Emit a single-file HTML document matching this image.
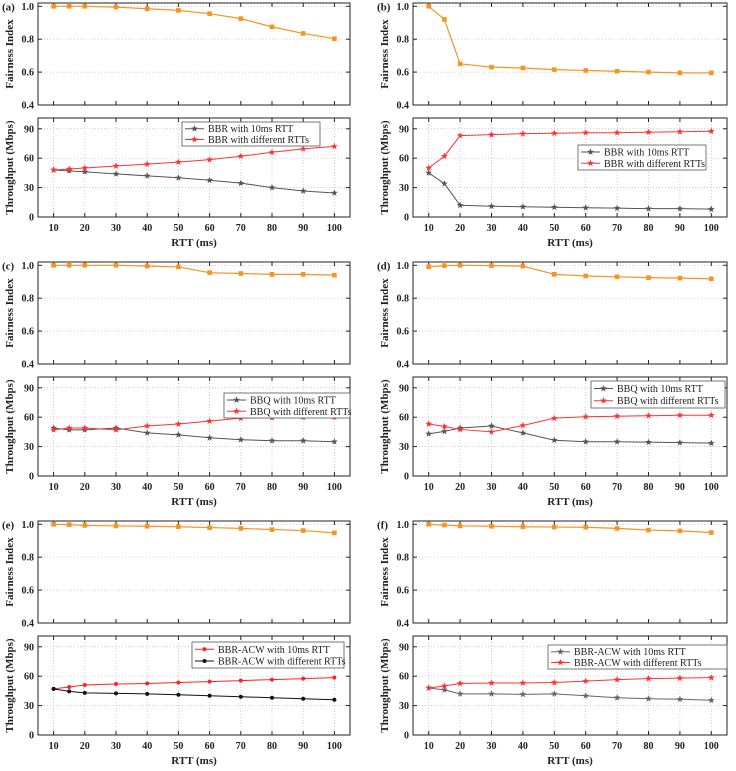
<!DOCTYPE html>
<html><head><meta charset="utf-8"><style>
html,body{margin:0;padding:0;background:#fff;}
svg{display:block;font-family:"Liberation Serif",serif;}
</style></head><body>
<svg id="c" width="736" height="771" xmlns="http://www.w3.org/2000/svg"></svg>
<script>
const rtts=[10,15,20,30,40,50,60,70,80,90,100];
const fairA=[1.0,1.0,1.0,0.995,0.985,0.975,0.955,0.925,0.875,0.835,0.803];
const tA1=[48,47,46,44,42,40,37.5,34.5,30,26.5,24.5];
const tA2=[48,49,50,52,54,56,58.5,62,66,69.5,72];
const fairB=[1.0,0.92,0.65,0.63,0.625,0.615,0.61,0.605,0.6,0.595,0.595];
const tB1=[45,34,12,11,10.5,10,9.5,9,8.5,8.5,8];
const tB2=[50,62,83,84,85,85.5,86,86,86.5,87,87.5];
const fairC=[1.0,1.0,1.0,1.0,0.995,0.99,0.955,0.95,0.945,0.945,0.94];
const tC1=[49,47,47,49,44,42,39,37,36,36,35];
const tC2=[47,49,49,47,51,53,56,59,59.5,60,60];
const fairD=[0.99,0.998,1.0,0.998,0.995,0.945,0.935,0.93,0.925,0.922,0.918];
const tD1=[43,45.5,49,51,44,36.5,35,35,34.5,34,33.5];
const tD2=[53,50.5,47.5,45,51.5,59,60.5,61,61.5,62,62];
const fairE=[1.0,0.998,0.993,0.99,0.988,0.985,0.98,0.975,0.968,0.962,0.948];
const tE1=[47,49,51,52,52.5,53.5,54.5,55.5,56.5,57.5,58.5];
const tE2=[47,44.5,43,42.5,42,41,40,39,38,37,36];
const fairF=[1.0,0.995,0.99,0.988,0.985,0.983,0.982,0.975,0.965,0.96,0.95];
const tF1=[48,46,42,42,41.5,42,40,38,37,36.5,35.5];
const tF2=[48,50,52.5,53,53,53.5,55,56.5,57.5,58,58.5];
const xTicks=[10,20,30,40,50,60,70,80,90,100];
const fTicks=[0.4,0.6,0.8,1.0];
const thTicks=[0,30,60,90];

const NS="http://www.w3.org/2000/svg";
const svg=document.getElementById('c');
function el(t,a,p){const e=document.createElementNS(NS,t);for(const k in a)e.setAttribute(k,a[k]);(p||svg).appendChild(e);return e;}
function txt(s,a,p){const e=el('text',a,p);e.textContent=s;return e;}

const panels=[
 {lab:'(a)',c:0,r:0,f:fairA,s1:tA1,s2:tA2,n1:'BBR with 10ms RTT',n2:'BBR with different RTTs',c1:'#555',c2:'#f33',m:'star',lg:[182,122,138,24]},
 {lab:'(b)',c:1,r:0,f:fairB,s1:tB1,s2:tB2,n1:'BBR with 10ms RTT',n2:'BBR with different RTTs',c1:'#555',c2:'#f33',m:'star',lg:[578,145,128,25]},
 {lab:'(c)',c:0,r:1,f:fairC,s1:tC1,s2:tC2,n1:'BBQ with 10ms RTT',n2:'BBQ with different RTTs',c1:'#555',c2:'#f33',m:'star',lg:[224,134,126,25]},
 {lab:'(d)',c:1,r:1,f:fairD,s1:tD1,s2:tD2,n1:'BBQ with 10ms RTT',n2:'BBQ with different RTTs',c1:'#555',c2:'#f33',m:'star',lg:[591,122,134,27]},
 {lab:'(e)',c:0,r:2,f:fairE,s1:tE1,s2:tE2,n1:'BBR-ACW with 10ms RTT',n2:'BBR-ACW with different RTTs',c1:'#f22',c2:'#111',m:'dot',lg:[192,124,152,26]},
 {lab:'(f)',c:1,r:2,f:fairF,s1:tF1,s2:tF2,n1:'BBR-ACW with 10ms RTT',n2:'BBR-ACW with different RTTs',c1:'#666',c2:'#f33',m:'star',lg:[548,127,179,24]}
];

function star(g,x,y,col){
  let pts=[];for(let i=0;i<10;i++){const a=-Math.PI/2+i*Math.PI/5,r=i%2?1.5:3.6;pts.push((x+r*Math.cos(a)).toFixed(1)+','+(y+r*Math.sin(a)).toFixed(1));}
  const p=el('polygon',{points:pts.join(' '),fill:col},g);
  
  
}
function dot(g,x,y,col){
  const c=el('circle',{cx:x,cy:y,r:2,fill:col},g);
  
  
}

panels.forEach(P=>{
  const L=P.c?413:38, R=P.c?727:350, off=P.r*259;
  const g=el('g',{}); 
  const xs=v=>L+(v-5)/100*(R-L);
  const fT=3+off,fB=105+off;
  const fy=v=>fB-(v-0.4)/(1.02-0.4)*(fB-fT);
  const tT=118+off,tB=217+off;
  const ty=v=>tB-v/101*(tB-tT);
  [[fT,fB],[tT,tB]].forEach(([T,B],k)=>{
    if(k===1) xTicks.forEach(v=>el('line',{x1:xs(v),x2:xs(v),y1:T,y2:B,stroke:'#bbb','stroke-dasharray':'1,2','stroke-width':0.7},g));
    const ticks=k?thTicks:fTicks, sy=k?ty:fy;
    ticks.forEach(v=>{
      const y=sy(v);
      if(y>T+3&&y<B-2) el('line',{x1:L,x2:R,y1:y,y2:y,stroke:'#bbb','stroke-dasharray':'1,2','stroke-width':0.7},g);
      el('line',{x1:L,x2:L+4,y1:y,y2:y,stroke:'#222'},g);
      el('line',{x1:R,x2:R-4,y1:y,y2:y,stroke:'#222'},g);
      const t=txt(k?String(v):v.toFixed(1),{x:L-4,y:y+3.5,'text-anchor':'end','font-size':10,'font-weight':'bold',fill:'#222'},g);
      
    });
    xTicks.forEach(v=>{el('line',{x1:xs(v),x2:xs(v),y1:B,y2:B-4,stroke:'#222'},g);el('line',{x1:xs(v),x2:xs(v),y1:T,y2:T+4,stroke:'#222'},g);});
    const fr=el('rect',{x:L,y:T,width:R-L,height:B-T,fill:'none',stroke:'#222','stroke-width':1},g);
    
  });
  xTicks.forEach(v=>{const t=txt(String(v),{x:xs(v),y:tB+14,'text-anchor':'middle','font-size':10,'font-weight':'bold',fill:'#222'},g);});
  const xl=txt('RTT (ms)',{x:(L+R)/2,y:tB+29,'text-anchor':'middle','font-size':11,'font-weight':'bold',fill:'#222'},g);
  
  const fl=txt('Fairness Index',{transform:`translate(${L-25},${(fT+fB)/2}) rotate(-90)`,'text-anchor':'middle','font-size':11,'font-weight':'bold',fill:'#222'},g);
  
  const tl=txt('Throughput (Mbps)',{transform:`translate(${L-25},${(tT+tB)/2}) rotate(-90)`,'text-anchor':'middle','font-size':11,'font-weight':'bold',fill:'#222'},g);
  
  const pl=txt(P.lab,{x:L-36,y:fy(1.0)+4,'font-size':11,'font-weight':'bold',fill:'#222'},g);
  
  const fp=el('polyline',{points:rtts.map((r,i)=>xs(r)+','+fy(P.f[i])).join(' '),fill:'none',stroke:'#f7931e','stroke-width':1.2},g);
  
  rtts.forEach((r,i)=>{const q=el('rect',{x:xs(r)-2.3,y:fy(P.f[i])-2.3,width:4.6,height:4.6,fill:'#f7931e'},g);});
  [[P.s1,P.c1],[P.s2,P.c2]].forEach(([s,col],k)=>{
    const pl2=el('polyline',{points:rtts.map((r,i)=>xs(r)+','+ty(s[i])).join(' '),fill:'none',stroke:col,'stroke-width':1},g);
    
    rtts.forEach((r,i)=>(P.m==='dot'?dot:star)(g,xs(r),ty(s[i]),col));
  });
  const [lx,lyr,lw,lh]=P.lg, ly=lyr+off;
  const lg=el('g',{},g);
  el('rect',{x:lx,y:ly,width:lw,height:lh,fill:'#fff',stroke:'#555','stroke-width':0.8},lg);
  [[P.n1,P.c1],[P.n2,P.c2]].forEach(([n,col],k)=>{
    const yy=ly+lh*(k?0.73:0.28);
    el('line',{x1:lx+3,x2:lx+22,y1:yy,y2:yy,stroke:col,'stroke-width':1},lg);
    (P.m==='dot'?dot:star)(lg,lx+12.5,yy,col);
    const t=txt(n,{x:lx+26,y:yy+3.5,'font-size':10,fill:'#222'},lg);
    
  });
});
</script>
</body></html>
